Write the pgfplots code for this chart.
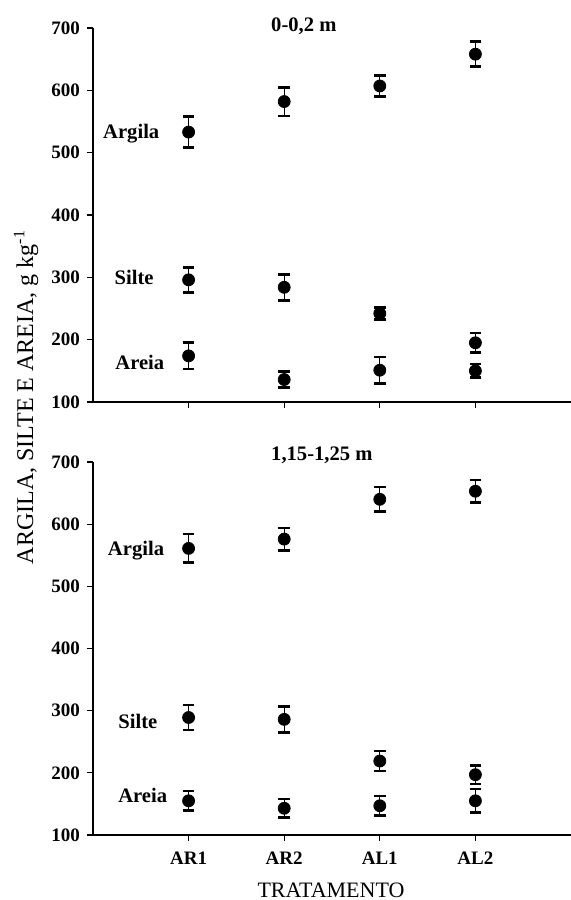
\documentclass[border=0pt]{standalone}
\usepackage{pgfplots}
\pgfplotsset{compat=1.18}
\usepackage{pgfplotstable}
\usepackage{fontspec}
\setmainfont{Liberation Serif}

\pgfplotstableread{
x y e
1 533 25
2 582 23
3 607 17
4 658 20
}\topargila
\pgfplotstableread{
x y e
1 296 20
2 284 21
3 242 10
4 195 16
}\topsilte
\pgfplotstableread{
x y e
1 174 21
2 136 13
3 151 21
4 150 11
}\topareia
\pgfplotstableread{
x y e
1 561 23
2 576 18
3 640 20
4 653 18
}\botargila
\pgfplotstableread{
x y e
1 289 20
2 286 21
3 219 16
4 197 15
}\botsilte
\pgfplotstableread{
x y e
1 155 16
2 143 15
3 147 16
4 155 19
}\botareia

\tikzset{lab/.style={font=\bfseries\fontsize{10.3}{12}\selectfont}}
\pgfplotsset{
  panel/.style={
    scale only axis, width=239pt,
    xmin=0, xmax=5, ymin=100, ymax=700,
    axis lines*=left,
    ytick={100,200,...,700}, xtick={1,2,3,4},
    tick align=outside, major tick length=3pt,
    tick style={black, line width=0.6pt},
    axis line style={black, line width=0.75pt},
    ticklabel style={font=\bfseries\fontsize{9.5}{11}\selectfont},
    /pgf/number format/assume math mode=true,
    clip=false,
  },
  pt/.style={only marks, mark=*, mark size=3pt, black, mark options={fill=black},
    error bars/.cd, y dir=both, y explicit, error mark=|,
    error bar style={line width=0.6pt, black},
    error mark options={line width=1.3pt, mark size=2.9pt, black}},
}

\begin{document}
\begin{tikzpicture}
\useasboundingbox (0,0) rectangle (285.5pt,450pt);

\begin{axis}[panel, height=187pt, at={(46.5pt,249pt)}, anchor=south west, xticklabels={}]
\addplot[pt] table[x=x,y=y,y error=e]{\topargila};
\addplot[pt] table[x=x,y=y,y error=e]{\topsilte};
\addplot[pt] table[x=x,y=y,y error=e]{\topareia};
\node[lab] at (axis cs:0.40,530) {Argila};
\node[lab] at (axis cs:0.43,299) {Silte};
\node[lab] at (axis cs:0.49,163) {Areia};
\node[lab, anchor=west, inner sep=0pt] at (axis cs:1.86,703) {0-0,2 m};
\end{axis}

\begin{axis}[panel, height=186.5pt, at={(46.5pt,32.5pt)}, anchor=south west,
  xticklabels={AR1,AR2,AL1,AL2}, xticklabel style={yshift=-2pt}]
\addplot[pt] table[x=x,y=y,y error=e]{\botargila};
\addplot[pt] table[x=x,y=y,y error=e]{\botsilte};
\addplot[pt] table[x=x,y=y,y error=e]{\botareia};
\node[lab] at (axis cs:0.45,557) {Argila};
\node[lab] at (axis cs:0.47,282) {Silte};
\node[lab] at (axis cs:0.52,164) {Areia};
\node[lab, anchor=west, inner sep=0pt] at (axis cs:1.86,711) {1,15-1,25 m};
\end{axis}

\node[rotate=90, font=\fontsize{12}{14}\selectfont] at (13pt,251.5pt) {ARGILA, SILTE E AREIA, g kg\textsuperscript{-1}};
\node[font=\fontsize{11}{13}\selectfont] at (165.5pt,5pt) {TRATAMENTO};
\end{tikzpicture}
\end{document}
